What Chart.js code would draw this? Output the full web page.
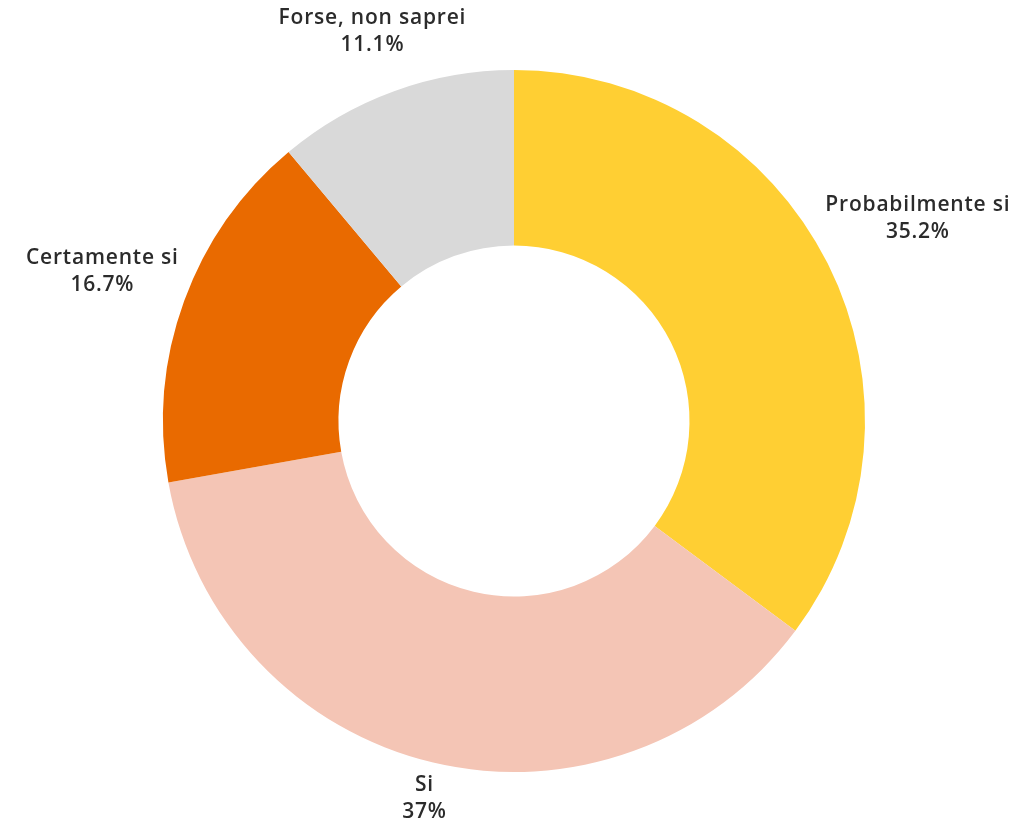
<!DOCTYPE html>
<html>
<head>
<meta charset="utf-8">
<script src="https://cdn.jsdelivr.net/npm/chart.js@4/dist/chart.umd.min.js"></script>
<style>
  html, body { margin: 0; padding: 0; background: #fff; }
  #wrap { width: 1025px; height: 823px; }
</style>
</head>
<body>
<div id="wrap"><canvas id="donut"></canvas></div>
<script>
// Survey answers, clockwise from 12 o'clock
const answers = ['Probabilmente si', 'Si', 'Certamente si', 'Forse, non saprei'];
const shares = [35.2, 37, 16.7, 11.1];
const sliceColors = ['#FFCF33', '#F4C5B5', '#E96A00', '#D9D9D9'];

const labelFont = '600 21px "Open Sans", sans-serif';
const lineHeight = 27;
const labelGap = 6;

// Two-line labels (name + percent) placed just outside each slice
const outsideLabels = {
    id: 'outsideLabels',
    afterDatasetsDraw(chart) {
        const ctx = chart.ctx;
        const meta = chart.getDatasetMeta(0);
        ctx.save();
        ctx.font = labelFont;
        ctx.letterSpacing = '0.8px';
        ctx.fillStyle = '#2b2b2b';
        ctx.textAlign = 'center';
        ctx.textBaseline = 'middle';
        meta.data.forEach((arc, i) => {
            const { x, y, startAngle, endAngle, outerRadius } =
                arc.getProps(['x', 'y', 'startAngle', 'endAngle', 'outerRadius'], true);
            const mid = (startAngle + endAngle) / 2;
            const lines = [answers[i], shares[i] + '%'];
            const w = Math.max(...lines.map(t => ctx.measureText(t).width));
            const h = lineHeight * lines.length;
            const cx = Math.cos(mid), cy = Math.sin(mid);
            const dist = outerRadius + labelGap + Math.abs(cx) * w / 2 + Math.abs(cy) * h / 2;
            const px = x + cx * dist;
            const py = y + cy * dist;
            lines.forEach((t, k) => {
                ctx.fillText(t, px, py + (k - (lines.length - 1) / 2) * lineHeight);
            });
        });
        ctx.restore();
    }
};

new Chart(document.getElementById('donut'), {
    type: 'doughnut',
    data: {
        labels: answers,
        datasets: [{
            data: shares,
            backgroundColor: sliceColors,
            borderWidth: 0,
            hoverOffset: 0
        }]
    },
    options: {
        responsive: true,
        maintainAspectRatio: false,
        animation: false,
        cutout: '50%',
        layout: {
            padding: { top: 70, bottom: 51, left: 3, right: 0 }
        },
        plugins: {
            legend: { display: false },
            tooltip: { enabled: false }
        }
    },
    plugins: [outsideLabels]
});
</script>
</body>
</html>
